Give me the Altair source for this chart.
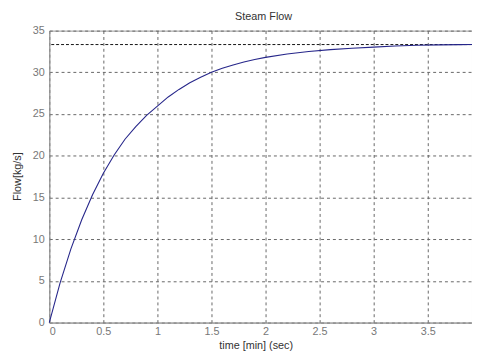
import altair as alt
import pandas as pd

# time [min] (sec) and flow [kg/s]
t_values = [0.0, 0.1, 0.2, 0.3, 0.4, 0.5, 0.6, 0.7, 0.8, 0.9, 1.0, 1.1, 1.2, 1.3,
            1.4, 1.5, 1.6, 1.7, 1.8, 1.9, 2.0, 2.2, 2.4, 2.6, 2.8, 3.0, 3.2, 3.4,
            3.6, 3.8, 3.91]
flow_values = [0.0, 4.75, 8.83, 12.32, 15.32, 17.89, 20.09, 21.98, 23.50, 24.85,
               25.95, 27.05, 27.95, 28.75, 29.40, 30.01, 30.49, 30.89, 31.24, 31.54,
               31.79, 32.20, 32.50, 32.72, 32.88, 33.02, 33.15, 33.24, 33.29, 33.32,
               33.33]
steady_value = [33.33]
x_ticks = [0, 0.5, 1, 1.5, 2, 2.5, 3, 3.5]
y_ticks = [0, 5, 10, 15, 20, 25, 30, 35]
x_domain = [0, 3.91]
y_domain = [0, 35]

curve_df = pd.DataFrame({"t": t_values, "flow": flow_values})
steady_df = pd.DataFrame({"flow": steady_value})

x_enc = alt.X(
    "t:Q",
    scale=alt.Scale(domain=x_domain, nice=False, zero=False),
    axis=alt.Axis(
        values=x_ticks,
        title="time [min] (sec)",
        titleX=210,
        titleY=23,
        titleBaseline="middle",
        titleAnchor="start",
        titleAlign="center",
        labelPadding=3,
        format="~g",
    ),
)
y_enc = alt.Y(
    "flow:Q",
    scale=alt.Scale(domain=y_domain, nice=False),
    axis=alt.Axis(
        values=y_ticks,
        title="Flow[kg/s]",
        titleX=-32,
        titleY=148,
        titleAngle=-90,
        titleBaseline="middle",
        titleAlign="center",
        labelPadding=5,
    ),
)

curve = alt.Chart(curve_df).mark_line(color="#26268a", strokeWidth=1.1).encode(
    x=x_enc, y=y_enc
)

steady = alt.Chart(steady_df).mark_rule(
    color="#111111", strokeDash=[3, 2], strokeWidth=1
).encode(y=alt.Y("flow:Q", scale=alt.Scale(domain=y_domain, nice=False)))

chart = (
    alt.layer(steady, curve)
    .properties(
        width=430,
        height=297,
        title=alt.TitleParams(
            "Steam Flow",
            fontSize=11,
            font="Liberation Sans",
            fontWeight="normal",
            color="#333333",
            anchor="middle",
            baseline="bottom",
            dx=3,
            offset=-8,
        ),
        autosize=alt.AutoSizeParams(type="none"),
        padding={"left": 42, "top": 20, "right": 0, "bottom": 32},
    )
    .configure_view(stroke="#999999", strokeWidth=1)
    .configure_axis(
        grid=True,
        gridColor="#666666",
        gridDash=[3, 3],
        gridWidth=1,
        gridOpacity=1,
        domainColor="#999999",
        domainWidth=1,
        tickSize=0,
        labelFont="Liberation Sans",
        labelFontSize=11,
        labelColor="#777777",
        titleFont="Liberation Sans",
        titleFontSize=11,
        titleFontWeight="normal",
        titleColor="#333333",
    )
)

chart.save("out.html", embed_options={"renderer": "svg", "actions": False})
